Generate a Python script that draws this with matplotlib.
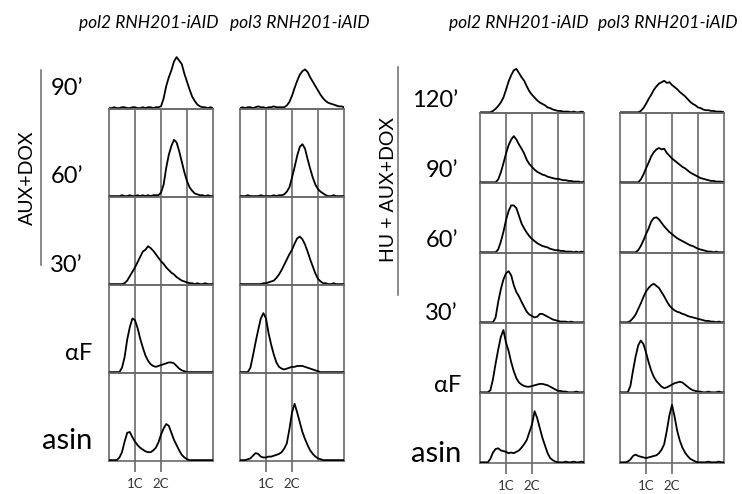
import numpy as np
import matplotlib.pyplot as plt

plt.rcParams['font.family'] = ['Lato', 'DejaVu Sans']

# DNA content axis: 1C at 1, 2C at 2
channel = np.round(np.arange(0, 4.01, 0.1), 1)
strains = ['pol2 RNH201-iAID', 'pol3 RNH201-iAID']

# ---- AUX+DOX release (counts, % of cell height) ----
rows_aux = ['90’', '60’', '30’', 'αF', 'asin']
aux_pol2_90 = [1, 1, 2, 1, 1, 2, 2, 1, 1, 2, 2, 1, 1, 2, 1, 2, 2, 1, 2, 2,
               3, 12, 26, 36, 44, 54, 59, 55, 51, 40, 31, 22, 14, 9, 5, 3, 2, 2, 1, 2, 1]
aux_pol2_60 = [1, 1, 1, 1, 1, 2, 1, 1, 2, 1, 1, 2, 1, 2, 1, 2, 1, 2, 2,
               2, 5, 14, 33, 48, 58, 65, 62, 52, 40, 28, 18, 11, 7, 4, 3, 2, 2, 1, 2, 1, 1]
aux_pol2_30 = [1, 1, 1, 1, 1, 1,
               2, 5, 10, 15, 20, 26, 32, 38, 40, 44, 42, 39, 35, 31, 27, 24, 20, 17, 14, 12,
               9, 7, 5, 4, 3, 2, 2, 1, 2, 1, 1, 2, 1, 1, 1]
aux_pol2_af = [1, 1, 1, 1,
               1, 6, 18, 38, 52, 62, 60, 51, 39, 29, 20, 14, 10, 8, 7, 8, 9, 10, 11, 12, 12,
               11, 8, 5, 3, 2, 1, 1, 1, 1, 1, 1, 1, 1, 1, 1, 1]
aux_pol2_asin = [1, 1, 1,
                 1, 4, 10, 22, 32, 33, 27, 22, 18, 15, 13, 11, 10, 10, 12, 15, 21, 30, 37, 42,
                 40, 32, 24, 18, 12, 7, 4, 2, 1, 1, 1, 1, 1, 1, 1, 1, 1, 1]
aux_pol3_90 = [1, 2, 1, 2, 2, 1, 2, 3, 2, 2, 1, 2, 2, 3, 2, 2, 2,
               2, 4, 8, 15, 24, 32, 39, 43, 45, 42, 36, 31, 26, 21, 16, 12, 9, 7, 6, 5, 4, 3, 3, 2]
aux_pol3_60 = [1, 1, 1, 2, 1, 1, 1, 1, 2, 1, 1, 1, 1, 2, 1, 2,
               2, 3, 6, 11, 22, 34, 47, 57, 60, 55, 43, 32, 22, 14, 9, 6, 4, 2,
               1, 1, 2, 1, 1, 1, 1]
aux_pol3_30 = [1, 1, 1, 1, 1, 1, 1, 1,
               1, 2, 2, 3, 4, 5, 8, 12, 17, 23, 29, 35, 40, 47, 53, 55, 52, 46, 38, 29, 21, 13,
               7, 4, 2, 2, 1, 1, 2, 1, 1, 1, 1]
aux_pol3_af = [1, 1, 1,
               1, 6, 20, 35, 49, 62, 68, 62, 45, 32, 21, 12, 7, 5, 4, 5, 6, 7, 7, 8, 8, 8,
               7, 6, 5, 4, 3, 2, 1, 1, 1, 1, 1, 1, 1, 1, 1, 1]
aux_pol3_asin = [1, 1,
                 1, 2, 3, 6, 9, 8, 5, 4, 4, 5, 5, 6, 7, 8, 10, 14, 20, 36, 55, 65,
                 55, 44, 33, 25, 18, 12, 8, 5, 3, 2, 1, 1, 1, 1, 1, 1, 1, 1, 1]

# ---- HU + AUX+DOX release ----
rows_hu = ['120’', '90’', '60’', '30’', 'αF', 'asin']
hu_pol2_120 = [1, 1, 1, 1,
               1, 3, 6, 10, 15, 22, 33, 45, 54, 61, 63, 57, 51, 46, 38, 31, 26, 22, 18, 15,
               13, 11, 8, 7, 5, 4, 3, 3, 2, 2, 2, 1, 2, 1, 1, 2, 1]
hu_pol2_90 = [1, 1, 1, 1, 1, 1,
              1, 5, 15, 28, 42, 54, 62, 67, 62, 55, 49, 42, 33, 27, 23, 19, 16, 14, 12, 11,
              9, 8, 7, 6, 6, 5, 4, 4, 3, 3, 2, 2, 2, 1, 2]
hu_pol2_60 = [1, 1, 1, 1, 1, 1,
              1, 5, 16, 30, 47, 60, 68, 68, 64, 53, 42, 35, 29, 24, 20, 17, 14, 12, 10, 9,
              8, 6, 5, 4, 4, 3, 3, 2, 2, 2, 1, 2, 1, 2, 1]
hu_pol2_30 = [1, 1, 1, 1, 1,
              1, 8, 30, 48, 62, 71, 74, 68, 54, 44, 38, 30, 23, 16, 12, 10, 8, 9, 13, 13,
              11, 9, 7, 5, 4, 3, 2, 2, 2, 1, 2, 1, 1, 1, 1, 1]
hu_pol2_af = [1, 1, 1,
              1, 4, 20, 42, 62, 80, 90, 72, 60, 44, 31, 21, 15, 12, 10, 9, 9, 10, 11, 12,
              13, 13, 12, 11, 9, 7, 5, 3, 3, 2, 2, 1, 1, 1, 2, 1, 1, 1]
hu_pol2_asin = [1, 1, 1,
                1, 6, 15, 20, 21, 18, 17, 16, 14, 15, 14, 16, 18, 22, 27, 33, 44, 55, 74, 64,
                50, 36, 25, 14, 7, 4, 2, 1, 1, 1, 2, 1, 1, 2, 1, 1, 2, 1]
hu_pol3_120 = [1, 1, 1, 1, 1, 1, 1,
               1, 3, 7, 13, 20, 26, 33, 38, 42, 44, 46, 43, 44, 40, 37, 34, 30, 27, 24, 20,
               16, 13, 11, 8, 7, 5, 4, 4, 3, 3, 2, 2, 2, 1]
hu_pol3_90 = [1, 1, 1, 1, 1, 1, 1,
              1, 5, 12, 21, 29, 38, 44, 48, 50, 48, 49, 43, 39, 35, 32, 29, 26, 23, 21, 18,
              15, 13, 11, 9, 7, 6, 5, 4, 3, 3, 2, 2, 2, 1]
hu_pol3_60 = [1, 1, 1, 1, 1, 1,
              1, 4, 10, 18, 27, 35, 45, 50, 51, 48, 43, 38, 34, 30, 27, 24, 21, 19, 17, 15,
              13, 11, 10, 8, 6, 5, 4, 3, 2, 2, 1, 2, 1, 1, 1]
hu_pol3_30 = [1, 1, 1,
              1, 3, 7, 12, 20, 28, 37, 45, 50, 54, 56, 53, 50, 44, 38, 31, 25, 21, 18, 16,
              15, 13, 12, 10, 9, 8, 7, 6, 5, 4, 3, 3, 2, 2, 1, 2, 1, 1]
hu_pol3_af = [1, 1, 1,
              1, 10, 32, 52, 68, 75, 70, 58, 44, 32, 23, 17, 13, 9, 7, 8, 10, 12, 14, 15,
              16, 15, 12, 9, 6, 4, 3, 2, 2, 1, 1, 2, 1, 1, 1, 2, 1, 1]
hu_pol3_asin = [1, 1,
                1, 2, 5, 10, 12, 10, 9, 8, 7, 8, 9, 10, 11, 14, 19, 27, 46, 68, 83, 66,
                46, 32, 22, 15, 10, 6, 4, 2, 1, 1, 1, 1, 2, 1, 1, 1, 2, 1, 1]

aux_curves = [[aux_pol2_90, aux_pol2_60, aux_pol2_30, aux_pol2_af, aux_pol2_asin],
              [aux_pol3_90, aux_pol3_60, aux_pol3_30, aux_pol3_af, aux_pol3_asin]]
hu_curves = [[hu_pol2_120, hu_pol2_90, hu_pol2_60, hu_pol2_30, hu_pol2_af, hu_pol2_asin],
             [hu_pol3_120, hu_pol3_90, hu_pol3_60, hu_pol3_30, hu_pol3_af, hu_pol3_asin]]

W, H = 742, 494
fig = plt.figure(figsize=(W / 100, H / 100), dpi=100)
grey = '#6a6a6a'


def px_axes(left, top, w, h):
    return fig.add_axes([left / W, 1 - (top + h) / H, w / W, h / H])


def ftext(x, y, s, **kw):
    fig.text(x / W, 1 - y / H, s, **kw)


def draw_block(curves, col_left, top0, row_h, col_w=104):
    nrows = len(curves[0])
    for c, left in enumerate(col_left):
        for r in range(nrows):
            ax = px_axes(left, top0 + r * row_h, col_w, row_h)
            ax.plot(channel, curves[c][r], color='black', lw=1.3, zorder=3)
            ax.set_xlim(0, 4)
            ax.set_ylim(0, 100)
            ax.set_yticks([])
            for s in ax.spines.values():
                s.set_color(grey)
                s.set_linewidth(1.2)
            if r == 0:
                for s in ['top', 'left', 'right']:
                    ax.spines[s].set_visible(False)
            else:
                for xv in (1, 2, 3):
                    ax.axvline(xv, color=grey, lw=1.2, zorder=1)
            if r == nrows - 1:
                ax.set_xticks([1, 2])
                ax.set_xticklabels(['1C', '2C'], fontsize=9.5, color='#333333')
                ax.tick_params(axis='x', direction='out', length=8, width=1.2,
                               color=grey, pad=4)
            else:
                ax.set_xticks([])
            ax.patch.set_alpha(0)


# left block
draw_block(aux_curves, [109, 240], 21, 88)
ftext(149, 23, strains[0], ha='center', va='center', fontsize=12.5, style='italic')
ftext(300, 23, strains[1], ha='center', va='center', fontsize=12.5, style='italic')
aux_base = [95, 183, 272, 360, 449]
aux_right = [83, 83, 83, 92, 92]
for lab, yb, xr in zip(rows_aux, aux_base, aux_right):
    fs = 21 if lab == 'asin' else 17
    ftext(xr, yb, lab, ha='right', va='baseline', fontsize=fs)
fig.add_artist(plt.Line2D([41 / W, 41 / W], [1 - 70 / H, 1 - 265 / H], color=grey, lw=1.1))
ftext(27, 178, 'AUX+DOX', rotation=90, ha='center', va='center', fontsize=14)

# right block
draw_block(hu_curves, [480, 620], 43, 70)
ftext(519, 23, strains[0], ha='center', va='center', fontsize=12.5, style='italic')
ftext(668, 23, strains[1], ha='center', va='center', fontsize=12.5, style='italic')
hu_base = [107, 177, 247, 320, 392, 462]
hu_right = [458, 458, 458, 458, 461, 461]
for lab, yb, xr in zip(rows_hu, hu_base, hu_right):
    fs = 21 if lab == 'asin' else 17
    ftext(xr, yb, lab, ha='right', va='baseline', fontsize=fs)
fig.add_artist(plt.Line2D([398 / W, 398 / W], [1 - 67 / H, 1 - 295 / H], color=grey, lw=1.1))
ftext(388, 190, 'HU + AUX+DOX', rotation=90, ha='center', va='center', fontsize=14)

fig.savefig('out.png', dpi=100, facecolor='white')
